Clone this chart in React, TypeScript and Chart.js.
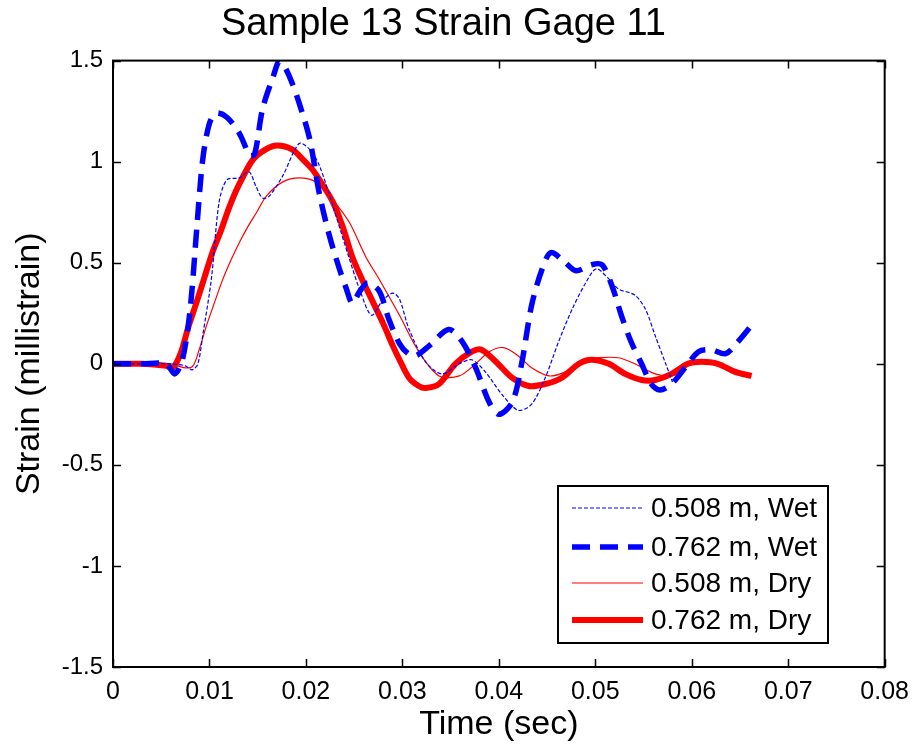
import React, { useEffect, useRef } from "react";
import { Chart, registerables } from "chart.js";

Chart.register(...registerables);

const chartTitle = "Sample 13 Strain Gage 11";
const xTitle = "Time (sec)";
const yTitle = "Strain (millistrain)";
const xTickValues = [0, 0.01, 0.02, 0.03, 0.04, 0.05, 0.06, 0.07, 0.08];
const yTickValues = [-1.5, -1, -0.5, 0, 0.5, 1, 1.5];
const seriesLabels = ["0.508 m, Wet", "0.762 m, Wet", "0.508 m, Dry", "0.762 m, Dry"];

// 0.508 m, Wet
const wet508T = [0, 0.002, 0.004, 0.006, 0.0075, 0.0082, 0.0088, 0.0093, 0.0102, 0.011, 0.0118, 0.0131, 0.0141, 0.0148, 0.0155, 0.0162, 0.0176, 0.0193, 0.0204, 0.0214, 0.0228, 0.0245, 0.0257, 0.0268, 0.0279, 0.029, 0.0297, 0.0307, 0.0324, 0.0341, 0.0359, 0.0372, 0.0386, 0.0403, 0.042, 0.0434, 0.0448, 0.0462, 0.0476, 0.049, 0.0501, 0.0514, 0.0524, 0.0541, 0.0552, 0.0562, 0.0573, 0.058];
const wet508S = [0, 0, 0, 0, -0.01, -0.03, 0, 0.14, 0.42, 0.8, 0.91, 0.92, 0.95, 0.88, 0.82, 0.83, 0.93, 1.09, 1.06, 0.98, 0.78, 0.52, 0.35, 0.24, 0.31, 0.35, 0.32, 0.17, 0.01, -0.05, 0, 0.02, -0.04, -0.15, -0.23, -0.2, -0.07, 0.11, 0.27, 0.4, 0.47, 0.42, 0.37, 0.34, 0.27, 0.14, 0, -0.09];

// 0.762 m, Wet
const wet762T = [0, 0.003, 0.0055, 0.0064, 0.0072, 0.008, 0.0087, 0.0093, 0.01, 0.0107, 0.0118, 0.0131, 0.0142, 0.0147, 0.0155, 0.0166, 0.0173, 0.0183, 0.0193, 0.0204, 0.0214, 0.0224, 0.0234, 0.0242, 0.0248, 0.0256, 0.0264, 0.0276, 0.0286, 0.0297, 0.0306, 0.0314, 0.0328, 0.0348, 0.0362, 0.0376, 0.039, 0.04, 0.0414, 0.0424, 0.0434, 0.0445, 0.0454, 0.0469, 0.048, 0.0496, 0.0507, 0.0517, 0.0527, 0.0537, 0.0548, 0.0558, 0.0567, 0.0579, 0.0593, 0.0607, 0.062, 0.0635, 0.0648, 0.0662];
const wet762S = [0, 0, 0, -0.05, 0.02, 0.27, 0.68, 1.01, 1.19, 1.24, 1.22, 1.14, 1.03, 1.04, 1.26, 1.42, 1.5, 1.42, 1.29, 1.11, 0.84, 0.64, 0.48, 0.37, 0.3, 0.36, 0.4, 0.36, 0.22, 0.1, 0.05, 0.04, 0.09, 0.17, 0.11, -0.02, -0.19, -0.25, -0.19, 0.01, 0.29, 0.47, 0.55, 0.5, 0.46, 0.49, 0.49, 0.39, 0.24, 0.11, 0, -0.1, -0.13, -0.1, -0.02, 0.06, 0.07, 0.05, 0.11, 0.19];

// 0.508 m, Dry
const dry508T = [0, 0.003, 0.006, 0.0075, 0.0083, 0.009, 0.0097, 0.0105, 0.0114, 0.0122, 0.0131, 0.014, 0.0149, 0.0159, 0.0176, 0.0193, 0.021, 0.0228, 0.0245, 0.0262, 0.0277, 0.0297, 0.0317, 0.0338, 0.0359, 0.0376, 0.039, 0.0405, 0.042, 0.0434, 0.0452, 0.0469, 0.049, 0.0503, 0.0524, 0.0541, 0.0562, 0.0576, 0.059];
const dry508S = [0, 0, 0, -0.02, -0.01, 0.08, 0.19, 0.3, 0.42, 0.51, 0.6, 0.68, 0.75, 0.83, 0.9, 0.92, 0.9, 0.81, 0.7, 0.53, 0.41, 0.24, 0.06, -0.06, -0.06, 0, 0.06, 0.08, 0.04, -0.02, -0.06, -0.04, 0.02, 0.03, 0.03, 0, -0.05, -0.06, -0.05];

// 0.762 m, Dry
const dry762T = [0, 0.003, 0.0055, 0.0062, 0.007, 0.0078, 0.0087, 0.0095, 0.0103, 0.0112, 0.0121, 0.013, 0.0145, 0.0158, 0.017, 0.0186, 0.0197, 0.0207, 0.0218, 0.0228, 0.0238, 0.0248, 0.0258, 0.0269, 0.028, 0.029, 0.0297, 0.0307, 0.0317, 0.0324, 0.0338, 0.0355, 0.0372, 0.0382, 0.0397, 0.0414, 0.0431, 0.0448, 0.0465, 0.0483, 0.0496, 0.0514, 0.0531, 0.0548, 0.0562, 0.0579, 0.0596, 0.061, 0.0627, 0.0645, 0.0662];
const dry762S = [0, 0, -0.01, -0.02, 0.05, 0.18, 0.31, 0.43, 0.55, 0.66, 0.78, 0.88, 1.01, 1.06, 1.08, 1.06, 1.01, 0.96, 0.88, 0.8, 0.68, 0.53, 0.42, 0.31, 0.2, 0.09, 0.02, -0.07, -0.11, -0.12, -0.1, 0, 0.06, 0.07, 0.01, -0.07, -0.11, -0.1, -0.07, 0, 0.02, 0, -0.05, -0.08, -0.08, -0.05, 0, 0.01, 0, -0.04, -0.06];

const FONT = "'Liberation Sans', Arial, Helvetica, sans-serif";

const toPoints = (t: number[], s: number[]) => t.map((x, i) => ({ x, y: s[i] }));

const framePlugin = {
  id: "matlabFrame",
  afterDatasetsDraw(chart: any) {
    const { ctx, chartArea, scales } = chart;
    const { left, right, top, bottom } = chartArea;
    const tl = 8;
    ctx.save();
    ctx.strokeStyle = "#000";
    ctx.lineWidth = 1.5;
    ctx.beginPath();
    xTickValues.forEach((v) => {
      const px = Math.round(scales.x.getPixelForValue(v)) + 0.5;
      ctx.moveTo(px, bottom);
      ctx.lineTo(px, bottom - tl);
      ctx.moveTo(px, top);
      ctx.lineTo(px, top + tl);
    });
    yTickValues.forEach((v) => {
      const py = Math.round(scales.y.getPixelForValue(v)) + 0.5;
      ctx.moveTo(left, py);
      ctx.lineTo(left + tl, py);
      ctx.moveTo(right, py);
      ctx.lineTo(right - tl, py);
    });
    ctx.stroke();
    ctx.lineWidth = 2;
    ctx.strokeRect(left, top, right - left, bottom - top);

    // legend box
    const bx = 558, by = 486, bw = 270, bh = 157;
    ctx.fillStyle = "#fff";
    ctx.fillRect(bx, by, bw, bh);
    ctx.lineWidth = 2;
    ctx.strokeStyle = "#000";
    ctx.strokeRect(bx, by, bw, bh);
    const rows = [508, 547, 583, 620];
    chart.data.datasets.forEach((ds: any, i: number) => {
      const y = rows[i];
      ctx.save();
      ctx.strokeStyle = ds.borderColor;
      ctx.lineWidth = ds.borderWidth;
      ctx.setLineDash(ds.borderDash || []);
      ctx.lineCap = "butt";
      ctx.beginPath();
      ctx.moveTo(572, y);
      ctx.lineTo(643, y);
      ctx.stroke();
      ctx.restore();
      ctx.fillStyle = "#000";
      ctx.font = `28px ${FONT}`;
      ctx.textBaseline = "middle";
      ctx.textAlign = "left";
      ctx.fillText(ds.label, 651, y + 1);
    });
    ctx.restore();
  },
};

export default function App() {
  const ref = useRef<HTMLCanvasElement>(null);
  useEffect(() => {
    if (!ref.current) return;
    const chart = new Chart(ref.current, {
      type: "line",
      data: {
        datasets: [
          {
            label: seriesLabels[0],
            data: toPoints(wet508T, wet508S),
            borderColor: "#0000ff",
            borderWidth: 1.2,
            borderDash: [4, 2],
            pointRadius: 0,
            tension: 0.3,
            clip: 0,
          },
          {
            label: seriesLabels[1],
            data: toPoints(wet762T, wet762S),
            borderColor: "#0000ff",
            borderWidth: 5.5,
            borderDash: [18, 10],
            pointRadius: 0,
            tension: 0.3,
            clip: 0,
          },
          {
            label: seriesLabels[2],
            data: toPoints(dry508T, dry508S),
            borderColor: "#ff0000",
            borderWidth: 1.2,
            pointRadius: 0,
            tension: 0.3,
            clip: 0,
          },
          {
            label: seriesLabels[3],
            data: toPoints(dry762T, dry762S),
            borderColor: "#ff0000",
            borderWidth: 6,
            pointRadius: 0,
            tension: 0.3,
            clip: 0,
          },
        ] as any,
      },
      options: {
        animation: false,
        responsive: false,
        devicePixelRatio: 1,
        layout: { padding: { left: 0, right: 32, top: 0, bottom: 0 } },
        plugins: {
          legend: { display: false },
          tooltip: { enabled: false },
          title: {
            display: true,
            text: chartTitle,
            color: "#000",
            font: { family: FONT, size: 38, weight: "normal" },
            padding: { top: 2, bottom: 13 },
          },
        },
        scales: {
          x: {
            type: "linear",
            min: 0,
            max: 0.08,
            afterBuildTicks: (scale: any) => {
              scale.ticks = xTickValues.map((v) => ({ value: v }));
            },
            afterFit: (scale: any) => {
              scale.height = 79;
            },
            grid: { display: false, drawTicks: false },
            border: { display: false },
            ticks: {
              color: "#000",
              font: { family: FONT, size: 25 },
              padding: 10,
              maxRotation: 0,
              autoSkip: false,
              callback: (v: any) => String(Number(v)),
            },
            title: {
              display: true,
              text: xTitle,
              color: "#000",
              font: { family: FONT, size: 34 },
              padding: { top: 0, bottom: 1 },
            },
          },
          y: {
            type: "linear",
            min: -1.5,
            max: 1.5,
            afterBuildTicks: (scale: any) => {
              scale.ticks = yTickValues.map((v) => ({ value: v }));
            },
            afterFit: (scale: any) => {
              scale.width = 113;
            },
            grid: { display: false, drawTicks: false },
            border: { display: false },
            ticks: {
              color: "#000",
              font: { family: FONT, size: 24 },
              padding: 10,
              autoSkip: false,
              callback: (v: any) => String(Number(v)),
            },
            title: {
              display: true,
              text: yTitle,
              color: "#000",
              font: { family: FONT, size: 34 },
              padding: { top: 9, bottom: 0 },
            },
          },
        },
      } as any,
      plugins: [framePlugin],
    });
    return () => chart.destroy();
  }, []);
  return (
    <div style={{ position: "fixed", left: 0, top: 0, width: 919, height: 746, background: "#fff" }}>
      <canvas ref={ref} width={919} height={746} style={{ width: 919, height: 746 }} />
    </div>
  );
}
